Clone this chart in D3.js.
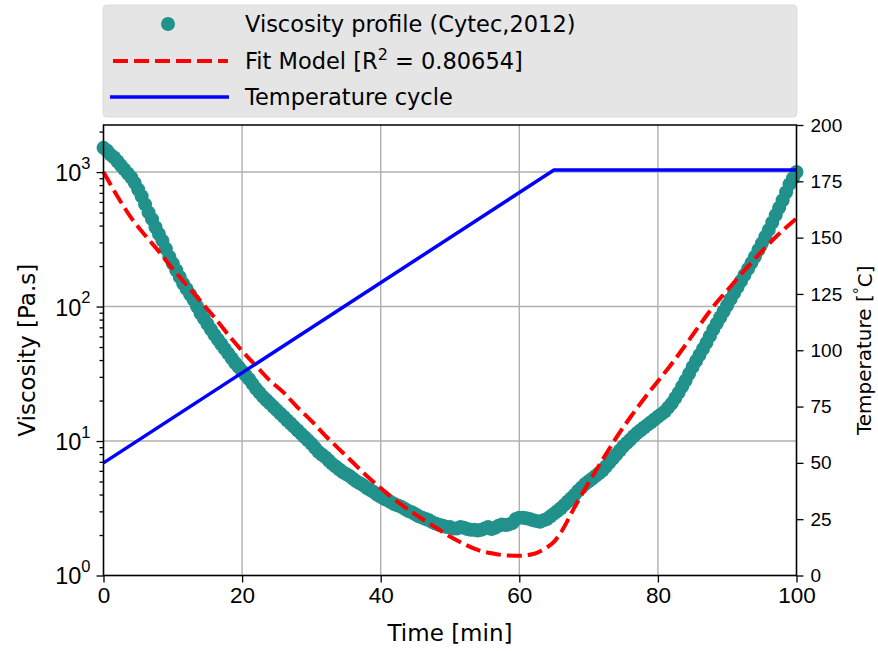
<!DOCTYPE html>
<html>
<head>
  <title>Viscosity profile</title>
  <style>
    body { margin: 0; background: #fff; }
    svg { font-family: "DejaVu Sans", sans-serif; }
  </style>
</head>
<body>
  <div id="chart"></div>

  <script src="https://d3js.org/d3.v7.min.js"></script>
  <script>
    // viscosity readings every half minute, log10(Pa.s)
    const time = d3.range(201).map(i => i / 2);
    const viscosityLog = [
      3.18, 3.16, 3.13, 3.11, 3.08, 3.05, 3.02, 2.99, 2.96, 2.92,
      2.87, 2.82, 2.76, 2.70, 2.65, 2.59, 2.54, 2.49, 2.43, 2.37,
      2.32, 2.27, 2.22, 2.17, 2.13, 2.09, 2.05, 2.00, 1.95, 1.91,
      1.87, 1.83, 1.79, 1.755, 1.72, 1.685, 1.65, 1.615, 1.58, 1.55,
      1.52, 1.49, 1.46, 1.425, 1.39, 1.36, 1.33, 1.305, 1.28, 1.255,
      1.23, 1.205, 1.18, 1.155, 1.13, 1.105, 1.08, 1.055, 1.03, 1.005,
      0.98, 0.95, 0.92, 0.90, 0.88, 0.855, 0.83, 0.81, 0.79, 0.77,
      0.755, 0.74, 0.72, 0.70, 0.686, 0.67, 0.65, 0.635, 0.62, 0.60,
      0.585, 0.57, 0.56, 0.545, 0.53, 0.52, 0.51, 0.495, 0.48, 0.47,
      0.455, 0.44, 0.43, 0.42, 0.41, 0.395, 0.385, 0.375, 0.37, 0.36,
      0.36, 0.35, 0.35, 0.36, 0.355, 0.345, 0.34, 0.34, 0.335, 0.34,
      0.35, 0.36, 0.345, 0.355, 0.37, 0.38, 0.375, 0.38, 0.39, 0.42,
      0.43, 0.43, 0.425, 0.42, 0.41, 0.405, 0.40, 0.41, 0.42, 0.44,
      0.46, 0.48, 0.50, 0.525, 0.55, 0.575, 0.60, 0.63, 0.655, 0.68,
      0.70, 0.72, 0.74, 0.76, 0.78, 0.81, 0.84, 0.87, 0.90, 0.93,
      0.96, 0.985, 1.01, 1.035, 1.06, 1.08, 1.10, 1.12, 1.14, 1.16,
      1.18, 1.20, 1.22, 1.25, 1.28, 1.32, 1.36, 1.405, 1.45, 1.50,
      1.55, 1.595, 1.64, 1.685, 1.73, 1.78, 1.83, 1.875, 1.92, 1.965,
      2.01, 2.055, 2.10, 2.145, 2.19, 2.235, 2.28, 2.325, 2.37, 2.42,
      2.47, 2.52, 2.57, 2.625, 2.68, 2.735, 2.79, 2.85, 2.91, 2.955,
      3.0
    ];
    const viscosity = viscosityLog.map(v => Math.pow(10, v));

    // fit model, log10(Pa.s)
    const fitTime = [0, 2, 4, 6, 8, 10, 12, 14, 16, 18, 20, 22, 24, 26, 28, 30, 32, 34, 36, 38, 40,
      42, 44, 46, 48, 50, 52, 54, 56, 58, 60, 62, 64, 65, 66, 68, 70, 72, 74, 76, 78, 80,
      82, 84, 86, 88, 90, 92, 94, 96, 98, 100];
    const fitLog = [3.0, 2.82, 2.66, 2.53, 2.41, 2.28, 2.16, 2.04, 1.92, 1.79, 1.67, 1.56, 1.45, 1.36, 1.25,
      1.15, 1.04, 0.94, 0.84, 0.74, 0.65, 0.565, 0.49, 0.42, 0.355, 0.29, 0.235, 0.19, 0.165, 0.15, 0.147,
      0.16, 0.21, 0.25, 0.32, 0.51, 0.69, 0.86, 1.025, 1.175, 1.315, 1.445, 1.575, 1.715, 1.86, 2.0, 2.12,
      2.24, 2.355, 2.465, 2.565, 2.655];
    const fitValues = fitLog.map(v => Math.pow(10, v));

    // temperature cycle (deg C)
    const tempTime = [0, 65, 100];
    const tempValues = [50, 180, 180];

    const xTicks = [0, 20, 40, 60, 80, 100];
    const yDecades = [1, 10, 100, 1000];
    const tempTicks = [0, 25, 50, 75, 100, 125, 150, 175, 200];

    const W = 878, H = 651;
    const mLeft = 103.5, mRight = 796.5, mTop = 125, mBottom = 575.5;

    const svg = d3.select("#chart")
      .append("svg")
      .attr("width", W)
      .attr("height", H);

    const x = d3.scaleLinear().domain([0, 100]).range([mLeft, mRight]);
    const y = d3.scaleLog().domain([1, Math.pow(10, 3.35)]).range([mBottom, mTop]);
    const yT = d3.scaleLinear().domain([0, 200]).range([mBottom, mTop]);

    // grid
    const grid = svg.append("g").attr("stroke", "#b0b0b0").attr("stroke-width", 1.4);
    xTicks.forEach(t => grid.append("line")
      .attr("x1", x(t)).attr("x2", x(t)).attr("y1", mTop).attr("y2", mBottom));
    yDecades.forEach(v => grid.append("line")
      .attr("x1", mLeft).attr("x2", mRight).attr("y1", y(v)).attr("y2", y(v)));

    const plot = svg.append("g");

    // viscosity points
    plot.selectAll("circle")
      .data(time)
      .enter()
      .append("circle")
      .attr("cx", (d, i) => x(d))
      .attr("cy", (d, i) => y(viscosity[i]))
      .attr("r", 7)
      .attr("fill", "#21918c");

    // fit model
    const fitLine = d3.line().curve(d3.curveMonotoneX)
      .x((d, i) => x(d)).y((d, i) => y(fitValues[i]));
    plot.append("path")
      .attr("d", fitLine(fitTime))
      .attr("fill", "none")
      .attr("stroke", "#ff0000")
      .attr("stroke-width", 4)
      .attr("stroke-dasharray", "15,6");

    // temperature
    const tempLine = d3.line().x((d, i) => x(d)).y((d, i) => yT(tempValues[i]));
    plot.append("path")
      .attr("d", tempLine(tempTime))
      .attr("fill", "none")
      .attr("stroke", "#0000ff")
      .attr("stroke-width", 3.5);

    // axes
    const xAxis = svg.append("g")
      .attr("transform", `translate(0,${mBottom})`)
      .call(d3.axisBottom(x).tickValues(xTicks).tickSize(7).tickPadding(5));
    xAxis.selectAll("text").attr("font-size", 22.5).attr("fill", "#000");

    const minors = [];
    [1, 10, 100, 1000].forEach(d => {
      for (let k = 2; k <= 9; k++) if (d * k <= Math.pow(10, 3.35)) minors.push(d * k);
    });
    svg.append("g")
      .attr("transform", `translate(${mLeft},0)`)
      .call(d3.axisLeft(y).tickValues(minors).tickSize(4).tickFormat(""));

    const yAxis = svg.append("g")
      .attr("transform", `translate(${mLeft},0)`)
      .call(d3.axisLeft(y).tickValues(yDecades).tickSize(7).tickPadding(6).tickFormat(""));
    yAxis.selectAll(".tick text").each(function(d) {
      const t = d3.select(this).attr("font-size", 23.5).attr("fill", "#000").attr("dy", "0.36em");
      t.append("tspan").text("10");
      t.append("tspan").attr("font-size", 16.5).attr("dy", "-0.75em").text(Math.round(Math.log10(d)));
    });

    const yAxisR = svg.append("g")
      .attr("transform", `translate(${mRight},0)`)
      .call(d3.axisRight(yT).tickValues(tempTicks).tickSize(7).tickPadding(7));
    yAxisR.selectAll("text").attr("font-size", 19).attr("fill", "#000");

    svg.selectAll(".domain").remove();
    svg.selectAll(".tick line").attr("stroke", "#000").attr("stroke-width", 1.3);

    // frame
    svg.append("rect")
      .attr("x", mLeft).attr("y", mTop)
      .attr("width", mRight - mLeft).attr("height", mBottom - mTop)
      .attr("fill", "none").attr("stroke", "#000").attr("stroke-width", 1.5);

    // axis labels
    svg.append("text")
      .attr("x", (mLeft + mRight) / 2).attr("y", 641)
      .attr("text-anchor", "middle").attr("font-size", 23)
      .text("Time [min]");

    svg.append("text")
      .attr("transform", `translate(35,${(mTop + mBottom) / 2}) rotate(-90)`)
      .attr("text-anchor", "middle").attr("font-size", 23)
      .text("Viscosity [Pa.s]");

    const rl = svg.append("text")
      .attr("transform", `translate(871,${(mTop + mBottom) / 2}) rotate(-90)`)
      .attr("text-anchor", "middle").attr("font-size", 20);
    rl.append("tspan").text("Temperature [");
    rl.append("tspan").attr("font-size", 14).attr("dy", "-0.5em").text("°");
    rl.append("tspan").attr("dy", "0.4em").text("C]");

    // legend
    const lg = svg.append("g");
    lg.append("rect")
      .attr("x", 103).attr("y", 5).attr("width", 694).attr("height", 112)
      .attr("rx", 4).attr("fill", "#e5e5e5").attr("stroke", "#dcdcdc");
    const rows = [24, 61, 97];
    lg.append("circle").attr("cx", 168).attr("cy", rows[0]).attr("r", 7).attr("fill", "#21918c");
    lg.append("line").attr("x1", 113).attr("x2", 228).attr("y1", rows[1]).attr("y2", rows[1])
      .attr("stroke", "#ff0000").attr("stroke-width", 4).attr("stroke-dasharray", "15,6");
    lg.append("line").attr("x1", 110).attr("x2", 229).attr("y1", rows[2]).attr("y2", rows[2])
      .attr("stroke", "#0000ff").attr("stroke-width", 3.5);

    lg.append("text").attr("x", 245).attr("y", rows[0]).attr("dy", "0.36em")
      .attr("font-size", 22.5).text("Viscosity profile (Cytec,2012)");
    const fitText = lg.append("text").attr("x", 245).attr("y", rows[1]).attr("dy", "0.36em")
      .attr("font-size", 22.5);
    fitText.append("tspan").text("Fit Model [R");
    fitText.append("tspan").attr("font-size", 16).attr("dy", "-0.6em").text("2");
    fitText.append("tspan").attr("dy", "0.42em").text(" = 0.80654]");
    lg.append("text").attr("x", 245).attr("y", rows[2]).attr("dy", "0.36em")
      .attr("font-size", 22.5).text("Temperature cycle");
  </script>
</body>
</html>
